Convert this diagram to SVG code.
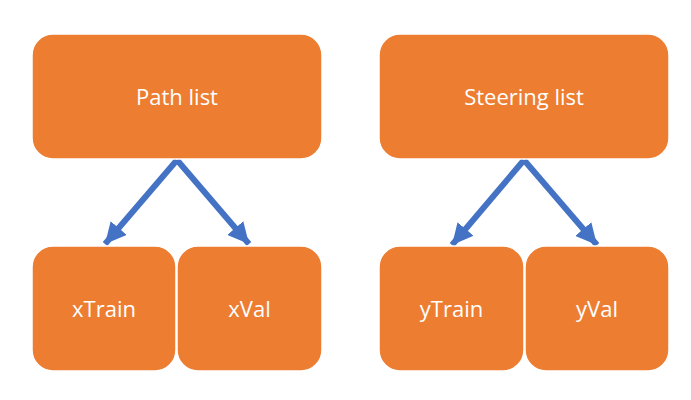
<svg xmlns="http://www.w3.org/2000/svg" width="691" height="400" viewBox="0 0 691 400">
<defs>
<style>
.box{fill:#ED7D31;stroke:#FFFFFF;stroke-width:1.5}
.lbl{font-family:"Open Sans","Liberation Sans",sans-serif;font-size:22px;fill:#FFFFFF;text-anchor:middle}
.conn{stroke:#4472C4;stroke-width:6;fill:none;marker-end:url(#ah)}
</style>
<marker id="ah" viewBox="0 0 10 10" refX="10" refY="5" markerUnits="userSpaceOnUse" markerWidth="21" markerHeight="21" orient="auto">
<path d="M0,0 L10,5 L0,10 z" fill="#4472C4"/>
</marker>
</defs>
<rect width="691" height="400" fill="#FFFFFF"/>
<g id="connectors">
<line class="conn" x1="177" y1="160" x2="105" y2="244"/>
<line class="conn" x1="177" y1="160" x2="249" y2="244"/>
<line class="conn" x1="524" y1="160" x2="452" y2="245"/>
<line class="conn" x1="524" y1="160" x2="597" y2="245"/>
</g>
<g id="path-list">
<rect class="box" x="32" y="34" width="290" height="125" rx="21"/>
<text class="lbl" x="177" y="105">Path list</text>
</g>
<g id="steering-list">
<rect class="box" x="379" y="34" width="290" height="125" rx="21"/>
<text class="lbl" x="524" y="105">Steering list</text>
</g>
<g id="xTrain">
<rect class="box" x="32" y="246" width="144" height="125" rx="21"/>
<text class="lbl" x="104" y="316.5">xTrain</text>
</g>
<g id="xVal">
<rect class="box" x="177" y="246" width="145" height="125" rx="21"/>
<text class="lbl" x="249.5" y="316.5">xVal</text>
</g>
<g id="yTrain">
<rect class="box" x="379" y="246" width="145" height="125" rx="21"/>
<text class="lbl" x="451.5" y="316.5">yTrain</text>
</g>
<g id="yVal">
<rect class="box" x="525" y="246" width="144" height="125" rx="21"/>
<text class="lbl" x="597" y="316.5">yVal</text>
</g>
</svg>
